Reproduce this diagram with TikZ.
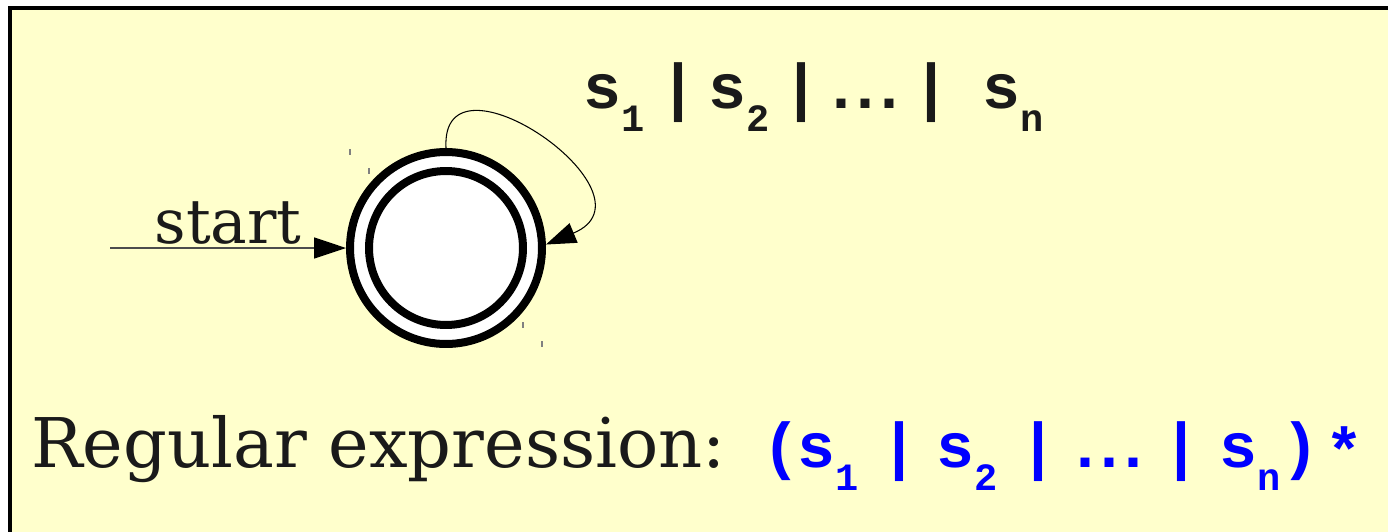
\documentclass[tikz,border=0pt]{standalone}
\usepackage{fontspec}
\setmainfont{DejaVu Serif}
\newfontfamily\codefont{Liberation Mono}
\usetikzlibrary{arrows.meta}

\definecolor{slidebg}{HTML}{FFFFCC}
\definecolor{inkgray}{HTML}{1A1A1A}
\definecolor{regblue}{HTML}{0000FF}

% 1 pixel of the slide
\newdimen\pxunit \pxunit=0.5691pt
\newcommand\gap[1]{\kern#1\pxunit}
\newcommand\lsub[1]{\raisebox{-23\pxunit}{\fontsize{22pt}{22pt}\selectfont #1}}

\tikzset{
  state/.style={circle, draw=black, fill=white, line width=0.16cm, inner sep=0pt},
  codetext/.style={font=\codefont\bfseries\fontsize{36pt}{40pt}\selectfont, inner sep=0pt, anchor=base west},
}

\begin{document}
\begin{tikzpicture}[x=0.02cm, y=-0.02cm]
    \useasboundingbox (0,0) rectangle (1388,531);
    % Folie
    \fill[white] (0,0) rectangle (1388,531);
    \draw[line width=0.08cm, fill=slidebg] (10,8) rectangle (1400,545);

    % Zustand (Start und Endzustand zugleich)
    \node[state, minimum size=3.84cm] (q) at (446,248) {};
    \node[state, minimum size=3.08cm] (qin) at (q) {};

    % kleine Markierungen
    \foreach \x/\y in {350/149, 369/168, 523/322, 542/341} {
        \draw[gray, line width=0.6pt] (\x,\y) -- ++(0,6);
    }

    % Startpfeil
    \coordinate (s0) at (110,248);
    \draw[black!70, line width=0.85pt, -{Triangle[length=0.64cm, width=0.42cm, fill=black, color=black]}]
        (s0) -- node[above, inner sep=1.5pt, text=inkgray, font=\fontsize{35pt}{40pt}\selectfont] (start) {start} (q.west);

    % Schleife
    \draw[line width=0.6pt, -{Triangle[length=0.6cm, width=0.42cm]}]
        (q.north) .. controls (440,40) and (665,195) .. (q.2);
    \node[codetext, text=inkgray] (looplabel) at (583,108)
        {s\lsub{1}\gap{15}|\gap{11}s\lsub{2}\gap{13}|\gap{2}.\gap{-14}.\gap{-14}.\gap{4}|\gap{32}s\lsub{n}};

    % Regulaerer Ausdruck
    \node[anchor=base west, inner sep=0pt, text=inkgray, font=\fontsize{39pt}{44pt}\selectfont] (regtext) at (31,467) {Regular expression:};
    \node[codetext, text=regblue] (regex) at (762,467)
        {(\gap{-3}s\lsub{1}\gap{22}|\gap{18}s\lsub{2}\gap{22}|\gap{9}.\gap{-14}.\gap{-14}.\gap{10}|\gap{19}s\lsub{n}\gap{1})\gap{6}\raisebox{-5\pxunit}{*}};
\end{tikzpicture}
\end{document}
